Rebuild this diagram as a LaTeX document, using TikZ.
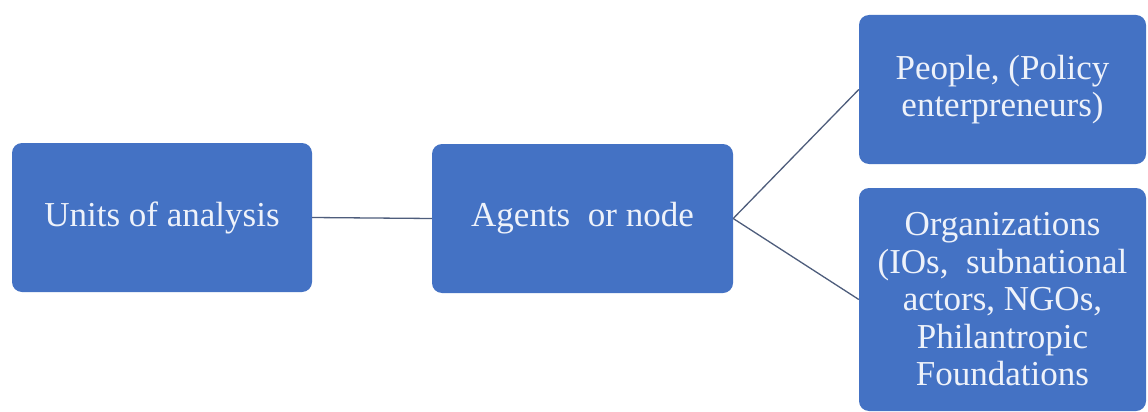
\documentclass[tikz,border=0pt]{standalone}
\usepackage{fontspec}
\setmainfont{Liberation Serif}
\definecolor{boxblue}{HTML}{4472C4}
\definecolor{boxtext}{HTML}{EEF2FA}
\definecolor{linkgrey}{HTML}{4E5D7C}
\begin{document}
\begin{tikzpicture}[x=1pt,y=-1pt,
  unitbox/.style={rectangle, rounded corners=10pt, fill=boxblue, draw=none,
    inner sep=0pt, text=boxtext, align=center,
    font=\fontsize{35}{37.5}\selectfont},
  link/.style={draw=linkgrey, line width=1.3pt}]
  \useasboundingbox (0,0) rectangle (1148,412);
  \fill[white] (0,0) rectangle (1148,412);

  % first level
  \node[unitbox, minimum width=300pt, minimum height=149pt] (units) at (162,217.5)
    {Units of analysis};
  % second level
  \node[unitbox, minimum width=301pt, minimum height=149pt] (agents) at (582.5,218.5)
    {Agents\ \ or node};
  % third level: the two kinds of agents
  \node[unitbox, minimum width=287pt, minimum height=149pt] (people) at (1002.5,89.5)
    {People, (Policy\\enterpreneurs)};
  \node[unitbox, minimum width=287pt, minimum height=223pt] (orgs) at (1002.5,299.5)
    {Organizations\\(IOs,\ \ subnational\\actors, NGOs,\\Philantropic\\Foundations};

  \draw[link] (units.east) -- (agents.west);
  \draw[link] (agents.east) -- (people.west);
  \draw[link] (agents.east) -- (orgs.west);
\end{tikzpicture}
\end{document}
